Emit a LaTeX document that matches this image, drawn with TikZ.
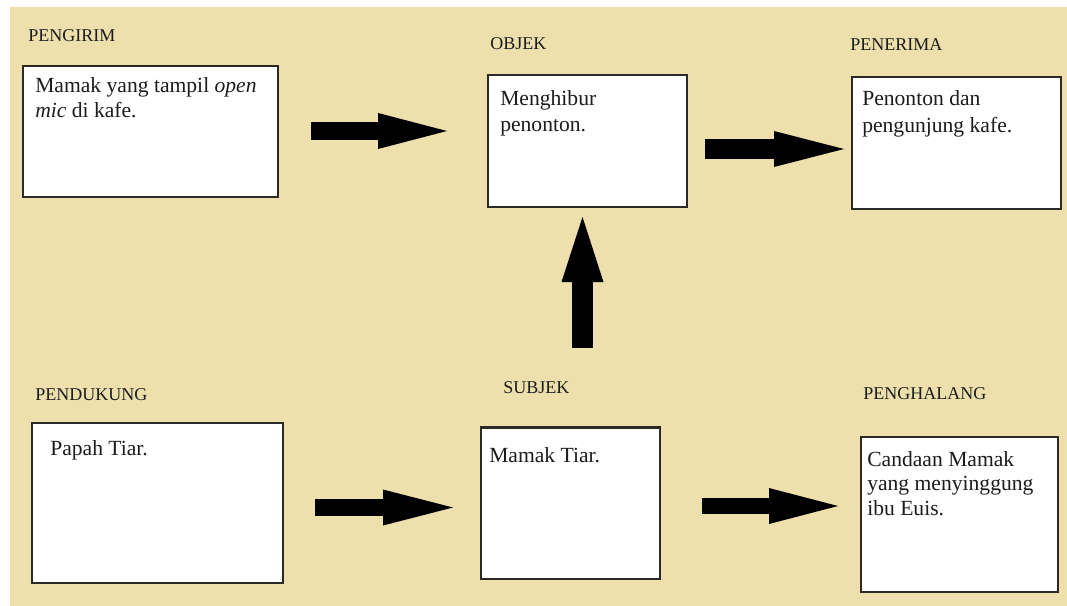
\documentclass[tikz,border=0pt]{standalone}
\usepackage{fontspec}
\setmainfont{Liberation Serif}
\usetikzlibrary{arrows.meta}
\definecolor{paper}{RGB}{237,224,172}
\definecolor{ink}{RGB}{28,28,28}
\definecolor{edge}{RGB}{45,42,38}
\begin{document}
\begin{tikzpicture}[x=0.75pt,y=-0.75pt,
  card/.style={draw=edge, fill=white, line width=1.5pt, inner sep=0pt, outer sep=0pt, anchor=north west},
  lbl/.style={anchor=base west, inner sep=0pt, text=ink, font=\fontsize{13.5pt}{16pt}\selectfont},
  body/.style={anchor=base west, inner sep=0pt, text=ink, font=\fontsize{16.2pt}{18.4pt}\selectfont},
  blk/.style={draw=black, -{Triangle[length=#1, width=27pt, line width=0pt]}},
  blk/.default=52pt]
% page and background panel
\fill[white] (0,0) rectangle (1067,606);
\fill[paper] (10,7) rectangle (1067,606);
\useasboundingbox (0,0) rectangle (1067,606);

% top row
\node[lbl] (lpengirim) at (28,41.5) {PENGIRIM};
\node[card, minimum width=191.25pt, minimum height=98.25pt] (pengirim) at (23,66) {};
\node[body] (tpengirim1) at (35,93) {Mamak yang tampil \textit{open}};
\node[body] (tpengirim2) at (35,117.5) {\textit{mic} di kafe.};

\node[lbl] (lobjek) at (490,50) {OBJEK};
\node[card, minimum width=149.25pt, minimum height=99pt] (objek) at (488,75) {};
\node[body] (tobjek1) at (500,106) {Menghibur};
\node[body] (tobjek2) at (500,132) {penonton.};

\node[lbl] (lpenerima) at (850,51) {PENERIMA};
\node[card, minimum width=156.75pt, minimum height=99pt] (penerima) at (852,77) {};
\node[body] (tpenerima1) at (862,106) {Penonton dan};
\node[body] (tpenerima2) at (862,133) {pengunjung kafe.};

% bottom row
\node[lbl] (lpendukung) at (35,400) {PENDUKUNG};
\node[card, minimum width=188.25pt, minimum height=120pt] (pendukung) at (32,423) {};
\node[body] (tpendukung) at (50,455) {Papah Tiar.};

\node[lbl] (lsubjek) at (503,393) {SUBJEK};
\node[card, minimum width=134.25pt, minimum height=114pt] (subjek) at (481,427) {};
\draw[edge, line width=2.25pt] (subjek.north west) -- (subjek.north east);
\node[body] (tsubjek) at (489,462) {Mamak Tiar.};

\node[lbl] (lpenghalang) at (863,399) {PENGHALANG};
\node[card, minimum width=147.75pt, minimum height=116.25pt] (penghalang) at (861,437) {};
\node[body] (tpenghalang1) at (867,466) {Candaan Mamak};
\node[body] (tpenghalang2) at (867,490.5) {yang menyinggung};
\node[body] (tpenghalang3) at (867,515) {ibu Euis.};

% block arrows between the boxes
\coordinate (a1s) at (311,131);   \coordinate (a1e) at (447,131);
\coordinate (a2s) at (705,149);   \coordinate (a2e) at (844,149);
\coordinate (a3s) at (315,507.5); \coordinate (a3e) at (453,507.5);
\coordinate (a4s) at (702,506);   \coordinate (a4e) at (838,506);
\coordinate (a5s) at (582.5,348); \coordinate (a5e) at (582.5,217);

\draw[blk=51.75pt, line width=13.5pt] (a1s) -- (a1e);
\draw[blk=52.5pt, line width=15pt] (a2s) -- (a2e);
\draw[blk=52.5pt, line width=12.75pt] (a3s) -- (a3e);
\draw[blk=51.75pt, line width=12pt] (a4s) -- (a4e);
\draw[line width=15.75pt, -{Triangle[length=48.75pt, width=31.5pt, line width=0pt]}] (a5s) -- (a5e);
\end{tikzpicture}
\end{document}
